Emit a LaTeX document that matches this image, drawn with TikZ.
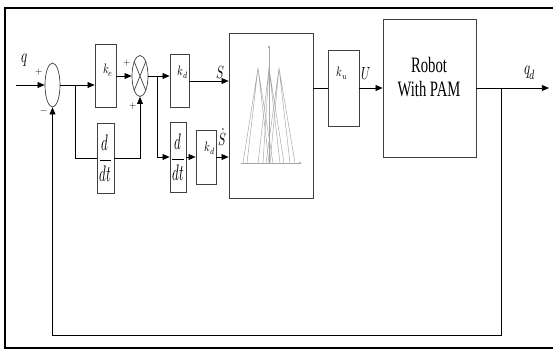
\documentclass[tikz,border=0pt]{standalone}
\usepackage{fontspec}
\setmainfont{Liberation Serif}
\usepackage{unicode-math}
\usepackage{graphicx}
\usetikzlibrary{shapes.geometric, arrows.meta, positioning, calc}

\newcommand{\tallt}[2][1.5]{\scalebox{1}[#1]{#2}}

\begin{document}
\begin{tikzpicture}[
    x=0.03cm, y=-0.03cm,
    blk/.style={rectangle, draw=black!75, line width=0.6pt, inner sep=0pt},
    junc/.style={ellipse, draw=black!75, line width=0.6pt, inner sep=0pt},
    gain/.style={font=\fontsize{9}{10}\selectfont, inner sep=0pt},
    sig/.style={font=\fontsize{10}{12}\selectfont, inner sep=0pt},
    sgn/.style={font=\fontsize{8}{9}\selectfont, inner sep=0pt},
    arrow/.style={-{Triangle[length=6pt,width=5pt]}, line width=0.6pt},
    wire/.style={line width=0.6pt},
    mf/.style={draw=black!35, line width=0.4pt}
]
\useasboundingbox (0,0) rectangle (553,350);

% outer frame
\draw[line width=1.3pt] (553,8) -- (5,8) -- (5,348) -- (553,348);

% summing junction and gains
\node[junc, minimum width=0.45cm, minimum height=1.32cm] (sum) at (52.5,85) {};
\node[blk, minimum width=0.63cm, minimum height=1.89cm] (ke) at (105.5,76) {};
\node[blk, minimum width=0.51cm, minimum height=2.1cm] (dd1) at (105.5,158) {\tallt[1.75]{\fontsize{11}{13}\selectfont$\dfrac{d}{dt}$}};
\node[junc, minimum width=0.48cm, minimum height=1.23cm] (mult) at (140,76) {};
\draw[wire, draw=black!75] (mult.north east) -- (mult.south west) (mult.north west) -- (mult.south east);
\node[blk, minimum width=0.57cm, minimum height=1.59cm] (kd) at (179.5,81) {};
\node[blk, minimum width=0.48cm, minimum height=2.1cm] (dd2) at (178,157) {\tallt[1.75]{\fontsize{11}{13}\selectfont$\dfrac{d}{dt}$}};
\node[blk, minimum width=0.6cm, minimum height=1.62cm] (kd2) at (206,157) {};

% fuzzy block
\node[blk, minimum width=2.52cm, minimum height=4.95cm] (fuzzy) at (271,115.5) {};
\draw[mf, -{Stealth[length=3pt,width=2pt]}] (241,163) -- (302,163);
\draw[mf, -{Stealth[length=3pt,width=2pt]}] (269,163) -- (269,45);
\foreach \p/\a/\b/\c/\d in {258/243/247/269/273, 269/258/263/280/284, 279/266/270/290/295}
    \draw[mf] (\a,163) -- (\p,68) -- (\c,163) (\b,163) -- (\p,68) -- (\d,163);

% output gain and plant
\node[blk, minimum width=0.93cm, minimum height=2.28cm] (ku) at (343.5,88) {};
\node[blk, minimum width=2.79cm, minimum height=4.14cm] (robot) at (429.5,88) {};
\node[font=\fontsize{12.5}{13.6}\selectfont, inner sep=0pt] (lrobot) at (429,80) {\tallt{\begin{tabular}{@{}c@{}}Robot\\With PAM\end{tabular}}};

% labels
\node[sig, font=\fontsize{11}{12}\selectfont] (lq) at (25,60) {\tallt{$q$}};
\node[sgn] (p1) at (39,72) {$+$};
\node[sgn] (m1) at (44,112) {$-$};
\node[gain] (lke) at (108,70) {\tallt[1.3]{$k_e$}};
\node[sgn] (p2) at (127,63) {$+$};
\node[sgn] (p3) at (133,106) {$+$};
\node[gain] (lkd) at (183,72) {\tallt[1.3]{$k_d$}};
\node[gain] (lkd2) at (210,148) {\tallt[1.3]{$k_d$}};
\node[sig] (ls) at (220,72) {\tallt{$S$}};
\node[sig] (lsd) at (222,137) {\tallt{$\dot{S}$}};
\node[gain] (lku) at (342,73) {\tallt[1.3]{$k_u$}};
\node[sig] (lu) at (366,74) {\tallt{$U$}};
\node[sig, font=\fontsize{11}{12}\selectfont] (lqd) at (530,73) {\tallt{$q_d$}};

% connections
\coordinate (in) at (16,85);
\coordinate (br1) at (75,85);
\coordinate (br2) at (157,76);
\coordinate (fb) at (501,88);
\coordinate (out) at (549,88);
\coordinate (low) at (0,335);

\draw[arrow] (in) -- (sum.west);
\draw[arrow] (sum.east) -- (sum.east -| ke.west);
\draw[wire] (br1) |- (dd1.west);
\draw[arrow] (dd1.east) -| (mult.south);
\draw[arrow] (ke.east) -- (mult.west);
\draw[arrow] (mult.east) -- (mult.east -| kd.west);
\draw[arrow] (br2) |- (dd2.west);
\draw[arrow] (dd2.east) -- (dd2.east -| kd2.west);
\draw[arrow] (kd.east) -- (kd.east -| fuzzy.west);
\draw[arrow] (kd2.east) -- (kd2.east -| fuzzy.west);
\draw[wire] (fuzzy.east |- ku.west) -- (ku.west);
\draw[arrow] (ku.east) -- (robot.west);
\draw[arrow] (robot.east) -- (out);
\draw[arrow] (fb) -- (fb |- low) -| (sum.south);

\end{tikzpicture}
\end{document}
